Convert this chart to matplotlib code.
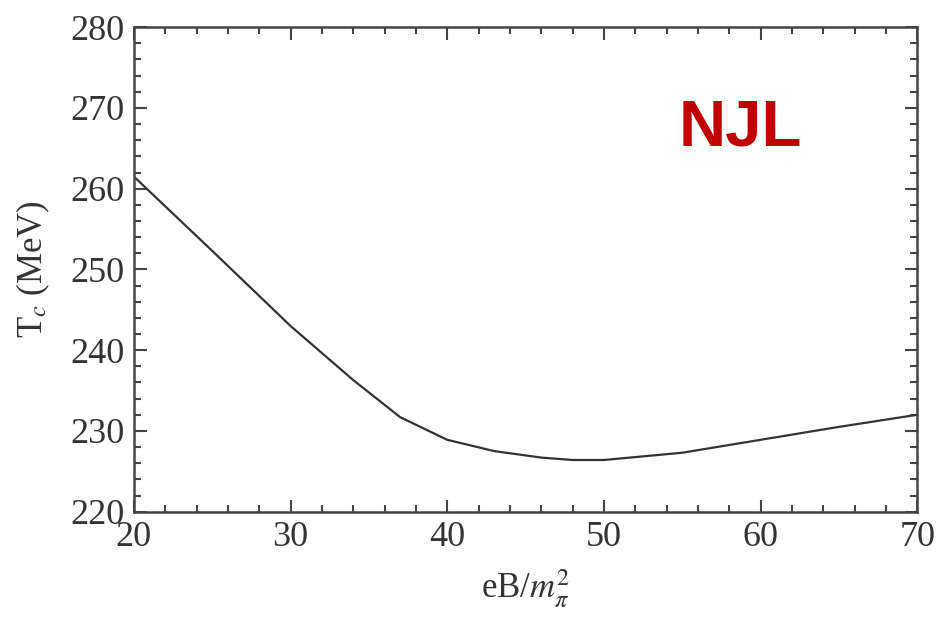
import matplotlib
matplotlib.use('Agg')
import matplotlib.pyplot as plt
from matplotlib.ticker import MultipleLocator

# critical temperature vs magnetic field (NJL)
eB = [20, 25, 30, 34, 37, 40, 43, 46, 48, 50, 55, 60, 65, 70]
Tc = [261.5, 252.3, 243.0, 236.3, 231.7, 228.9, 227.5, 226.7, 226.4, 226.4, 227.3, 228.9, 230.5, 232.0]

plt.rcParams['font.family'] = ['Liberation Serif', 'DejaVu Serif']
plt.rcParams['mathtext.fontset'] = 'stix'

fig = plt.figure(figsize=(9.36, 6.17), dpi=100)
ax = fig.add_axes([0.143, 0.1707, 0.837, 0.7853])

ax.plot(eB, Tc, color='#333333', lw=1.6)

ax.set_xlim(20, 70)
ax.set_ylim(220, 280)
ax.xaxis.set_major_locator(MultipleLocator(10))
ax.xaxis.set_minor_locator(MultipleLocator(2))
ax.yaxis.set_major_locator(MultipleLocator(10))
ax.yaxis.set_minor_locator(MultipleLocator(2))
ax.tick_params(which='both', direction='in', top=True, right=True,
               color='#444444', width=1.5)
ax.tick_params(which='major', length=9, labelsize=26, pad=7, labelcolor='#333333')
ax.tick_params(which='minor', length=5)
for s in ax.spines.values():
    s.set_linewidth(1.8)
    s.set_color('#444444')

ax.set_xlabel(r'eB/$m_\pi^2$', fontsize=25, labelpad=9, color='#333333')
ax.set_ylabel(r'T$_c$ (MeV)', fontsize=25, labelpad=13, color='#333333')

ax.text(0.774, 0.79, 'NJL', transform=ax.transAxes, ha='center', va='center',
        fontsize=47, fontweight='bold', color='#C00000', family='Liberation Sans')

fig.savefig('out.png', dpi=100)
